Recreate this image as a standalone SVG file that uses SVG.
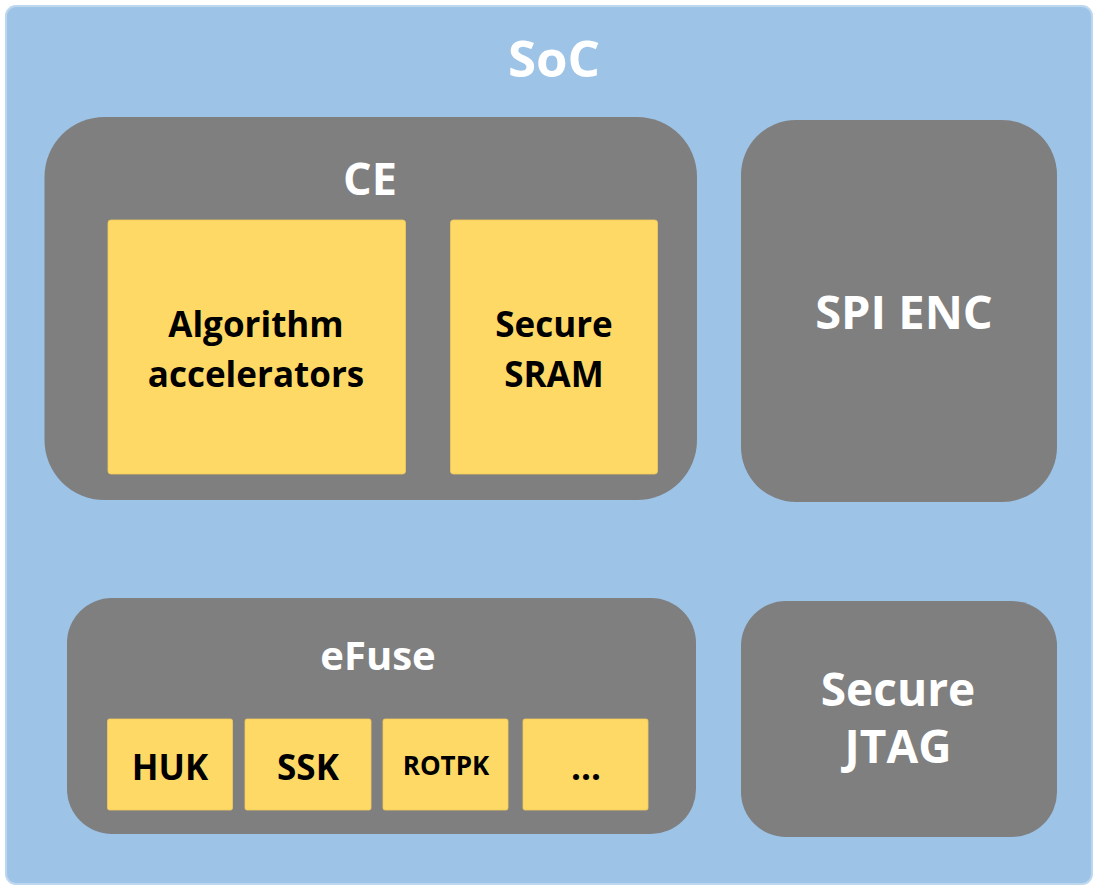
<svg xmlns="http://www.w3.org/2000/svg" width="1094" height="885" viewBox="0 0 1094 885">
  <style>
    .soc { fill: #9DC3E6; stroke: #BDD7EE; stroke-width: 2; }
    .block { fill: #7F7F7F; }
    .cell { fill: #FFD966; stroke: #F2CC5C; stroke-width: 0.8; }
    text { font-family: "Open Sans", "Liberation Sans", sans-serif; font-weight: bold; text-anchor: middle; }
    .w { fill: #FFFFFF; }
    .k { fill: #000000; }
  </style>

  <rect width="1094" height="885" fill="#FFFFFF"/>

  <g id="soc">
    <rect class="soc" x="6" y="6" width="1086" height="878" rx="10"/>
    <text class="w" x="554" y="77" font-size="51">SoC</text>
  </g>

  <g id="ce">
    <rect class="block" x="44.5" y="117" width="652.5" height="383" rx="60"/>
    <text class="w" x="370" y="195" font-size="45">CE</text>
  </g>

  <g id="algorithm-accelerators">
    <rect class="cell" x="108" y="220" width="297.5" height="254" rx="3"/>
    <text class="k" x="256" y="337" font-size="35">Algorithm</text>
    <text class="k" x="256" y="387" font-size="35">accelerators</text>
  </g>

  <g id="secure-sram">
    <rect class="cell" x="450.5" y="220" width="207" height="254" rx="3"/>
    <text class="k" x="554" y="337" font-size="35">Secure</text>
    <text class="k" x="554" y="387" font-size="35">SRAM</text>
  </g>

  <g id="spi-enc">
    <rect class="block" x="741" y="120" width="316" height="382" rx="55"/>
    <text class="w" x="904" y="329" font-size="47">SPI ENC</text>
  </g>

  <g id="efuse">
    <rect class="block" x="67" y="598" width="629" height="236" rx="45"/>
    <text class="w" x="378" y="670" font-size="40">eFuse</text>
  </g>

  <g id="huk">
    <rect class="cell" x="107.5" y="719" width="125" height="91" rx="2"/>
    <text class="k" x="170" y="780" font-size="35">HUK</text>
  </g>

  <g id="ssk">
    <rect class="cell" x="245" y="719" width="126" height="91" rx="2"/>
    <text class="k" x="308" y="780" font-size="35">SSK</text>
  </g>

  <g id="rotpk">
    <rect class="cell" x="383" y="719" width="125" height="91" rx="2"/>
    <text class="k" x="446" y="775" font-size="26">ROTPK</text>
  </g>

  <g id="more">
    <rect class="cell" x="523" y="719" width="125" height="91" rx="2"/>
    <text class="k" x="586" y="780" font-size="35">...</text>
  </g>

  <g id="secure-jtag">
    <rect class="block" x="741" y="601" width="316" height="236" rx="45"/>
    <text class="w" x="898" y="706" font-size="46">Secure</text>
    <text class="w" x="898" y="763" font-size="46">JTAG</text>
  </g>

  <g id="connectors"/>
</svg>
